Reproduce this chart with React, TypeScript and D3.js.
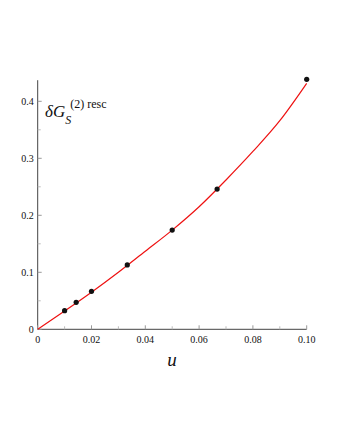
import React from "react";
import * as d3 from "d3";

const pointU = [0.01, 0.0143, 0.02, 0.0333, 0.05, 0.0667, 0.1];
const pointV = [0.0326, 0.0474, 0.0667, 0.113, 0.174, 0.246, 0.4386];

const curveU = [0, 0.01, 0.02, 0.03, 0.04, 0.05, 0.06, 0.07, 0.08, 0.09, 0.1];
const curveV = [0, 0.032, 0.065, 0.1, 0.137, 0.174, 0.215, 0.262, 0.312, 0.366, 0.4316];

const xTicks = [0, 0.02, 0.04, 0.06, 0.08, 0.1];
const xTickLabels = ["0", "0.02", "0.04", "0.06", "0.08", "0.10"];
const xMinor = [0.01, 0.03, 0.05, 0.07, 0.09];
const yTicks = [0, 0.1, 0.2, 0.3, 0.4];
const yTickLabels = ["0", "0.1", "0.2", "0.3", "0.4"];
const yMinor = [0.05, 0.15, 0.25, 0.35];

export default function App() {
  const x = d3.scaleLinear().domain([0, 0.1]).range([37.7, 306.7]);
  const y = d3.scaleLinear().domain([0, 0.4]).range([329.3, 101.3]);
  const yTop = 0.437;
  const line = d3
    .line<number>()
    .x((_, i) => x(curveU[i]))
    .y((v) => y(v))
    .curve(d3.curveMonotoneX);
  const font = "'Liberation Serif', 'DejaVu Serif', serif";
  const axisColor = "#444";
  return (
    <svg
      width={340}
      height={440}
      style={{ position: "absolute", left: 0, top: 0, background: "#fff" }}
    >
      {/* axes */}
      <line x1={x(0)} x2={x(0.1)} y1={y(0)} y2={y(0)} stroke={axisColor} strokeWidth={1} />
      <line x1={x(0)} x2={x(0)} y1={y(0)} y2={y(yTop)} stroke={axisColor} strokeWidth={1} />
      {xTicks.map((t, i) => (
        <g key={"xt" + i}>
          <line x1={x(t)} x2={x(t)} y1={y(0)} y2={y(0) - 4} stroke="#999" />
          <text
            x={x(t)}
            y={y(0) + 14}
            fontFamily={font}
            fontSize={10}
            textAnchor="middle"
            fill="#111"
          >
            {xTickLabels[i]}
          </text>
        </g>
      ))}
      {xMinor.map((t, i) => (
        <line key={"xm" + i} x1={x(t)} x2={x(t)} y1={y(0)} y2={y(0) - 3} stroke="#bbb" />
      ))}
      {yTicks.map((t, i) => (
        <g key={"yt" + i}>
          <line x1={x(0)} x2={x(0) + 4} y1={y(t)} y2={y(t)} stroke="#999" />
          <text
            x={x(0) - 4}
            y={y(t) + 3.5}
            fontFamily={font}
            fontSize={10}
            textAnchor="end"
            fill="#111"
          >
            {yTickLabels[i]}
          </text>
        </g>
      ))}
      {yMinor.map((t, i) => (
        <line key={"ym" + i} x1={x(0)} x2={x(0) + 3} y1={y(t)} y2={y(t)} stroke="#bbb" />
      ))}
      {/* curve */}
      <path d={line(curveV) || ""} fill="none" stroke="#ee1111" strokeWidth={1.2} />
      {/* points */}
      {pointU.map((u, i) => (
        <circle key={"p" + i} cx={x(u)} cy={y(pointV[i])} r={2.6} fill="#111" />
      ))}
      {/* y label */}
      <text x={45} y={117} fontFamily={font} fontSize={17} fill="#111">
        <tspan fontStyle="italic">δG</tspan>
        <tspan fontStyle="italic" fontSize={12} dy={7}>S</tspan>
        <tspan fontSize={12} dx={-1} dy={-16}>(2) resc</tspan>
      </text>
      {/* x label */}
      <text x={172} y={366} fontFamily={font} fontSize={19} fontStyle="italic" textAnchor="middle" fill="#111">
        u
      </text>
    </svg>
  );
}
